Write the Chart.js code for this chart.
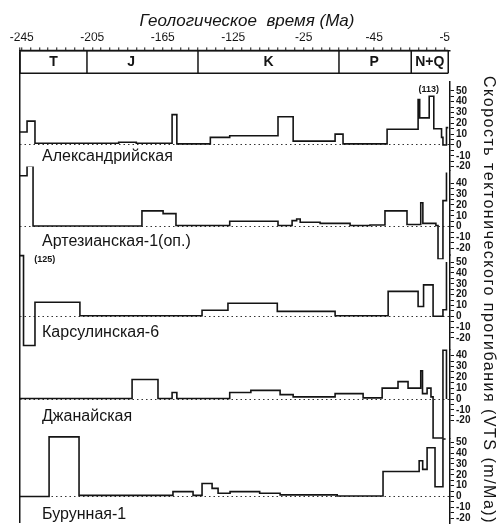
<!DOCTYPE html>
<html>
<head>
<meta charset="utf-8">
<script src="https://cdn.jsdelivr.net/npm/chart.js@4.4.1/dist/chart.umd.min.js"></script>
<style>
  body { margin: 0; background: #fff; }
  canvas { display: block; }
</style>
</head>
<body>
<canvas id="chart" width="500" height="531"></canvas>
<script>
// time axis, Ma
const timeTicks = [-245, -205, -165, -125, -85, -45, -5];
const timeLabels = ['-245', '-205', '-165', '-125', '-25', '-45', '-5'];

// periods
const periodNames = ['T', 'J', 'K', 'P', 'N+Q'];
const periodBounds = [-246, -208, -145, -65, -24, -3];

const stations = ['Александрийская', 'Артезианская-1(оп.)', 'Карсулинская-6', 'Джанайская', 'Бурунная-1'];

// step curves: start time of each step (Ma) and rate (m/Ma)
const alexT = [-246, -242, -237.5, -190, -180, -159.7, -157, -138, -127, -99.6, -91, -67.2, -62.7, -37.7, -20.1, -19.2, -13.8, -11.2, -6.8, -6, -4, -3];
const alexV = [12, 22, 1.5, 2.5, 1.5, 28, 1, 7, 8.5, 26, 3.5, 10, 1, 14.5, 42, 25, 45, 15, 7, 0, 16, 16];

const artT = [-246, -242, -238.6, -176.8, -164.8, -157.5, -127, -99.6, -91.6, -89, -87, -75.7, -58.7, -47.4, -38.9, -26.4, -18.6, -17.4, -10, -8.8, -6, -4];
const artV = [47, 56, 0.5, 14.5, 12, 1, 5, 1, 5.5, 7, 4, 3, 1, 1.5, 14.5, 2, 22, 3, 1, -30, 24, 50];

const karT = [-246, -244, -237.5, -212, -142.7, -128, -100, -67.2, -37.1, -20.1, -17, -11.6, -6, -4];
const karV = [56, -27, 13, 0.5, 5.5, 12, 4.5, 0.5, 23, 9, 29, 0, 6, 50];

const dzhT = [-246, -182.4, -167.7, -159.7, -157, -127, -115, -98.4, -91, -67.2, -51.3, -40.5, -31.5, -25.8, -18.6, -17.6, -15, -12.8, -11.6, -6, -4];
const dzhV = [0.5, 18, 0.5, 6, 0.5, 6, 8, 4, 2, 5, 1, 10, 16, 10, 26, 5, 10, 2, -36, 45, 0];

const burT = [-246, -229.5, -212.5, -159.2, -147.8, -142.7, -137, -133.6, -126.8, -110, -98.4, -66, -40, -19.5, -17.5, -15, -10.5, -6, -4.5];
const burV = [0, 55, 1, 4.5, 1, 12, 7.5, 3, 4.5, 3, 1.5, 0.5, 23, 33, 25, 45, 9, 53, 53];

// rate axis tick labels
const rateTicksA = [50, 40, 30, 20, 10, 0, -10, -20];
const rateTicksB = [40, 30, 20, 10, 0, -10, -20];

const ink = '#141414';

const panels = [
  { id: 'y1', t: alexT, v: alexV, min: -23.6, max: 58.2, ticks: rateTicksA },
  { id: 'y2', t: artT, v: artV, min: -26.4, max: 51.8, ticks: rateTicksB },
  { id: 'y3', t: karT, v: karV, min: -30.9, max: 56.4, ticks: rateTicksA },
  { id: 'y4', t: dzhT, v: dzhV, min: -36.4, max: 45.5, ticks: rateTicksB },
  { id: 'y5', t: burT, v: burV, min: -24.5, max: 53.6, ticks: rateTicksA }
];

// period box outline built from the boundaries
const periodOutline = [
  { x: periodBounds[0], y: 1 }, { x: periodBounds[periodBounds.length - 1], y: 1 }, { x: periodBounds[0], y: null },
  { x: periodBounds[0], y: 0 }, { x: periodBounds[periodBounds.length - 1], y: 0 }, { x: periodBounds[0], y: null }
];
periodBounds.forEach(b => {
  periodOutline.push({ x: b, y: 0 }, { x: b, y: 1 }, { x: b, y: null });
});

const scales = {
  x: {
    type: 'linear',
    position: 'top',
    min: -246,
    max: -2,
    afterBuildTicks: s => {
      const t = [{ value: -246 }];
      for (let v = -245; v <= -5; v += 5) t.push({ value: v });
      s.ticks = t;
    },
    afterFit: s => { s.height = 18; },
    ticks: {
      autoSkip: false, maxRotation: 0, padding: 3, color: ink,
      font: { size: 12 },
      callback: v => { const i = timeTicks.indexOf(v); return i < 0 ? '' : timeLabels[i]; }
    },
    grid: {
      color: c => c.index === 0 ? ink : 'rgba(0,0,0,0)',
      lineWidth: 1.5,
      tickColor: ink, tickLength: 3, tickWidth: 1
    },
    border: { color: ink, width: 1.5 }
  },
  yP: {
    type: 'linear', position: 'right', stack: 'rate', stackWeight: 29.1,
    min: -0.38, max: 1,
    afterFit: s => { s.width = 24; },
    ticks: { display: false },
    grid: { display: false },
    border: { display: false }
  }
};

panels.forEach(p => {
  scales[p.id] = {
    type: 'linear', position: 'right', stack: 'rate', stackWeight: p.max - p.min,
    min: p.min, max: p.max,
    afterBuildTicks: s => {
      const t = [];
      for (let v = p.ticks[p.ticks.length - 1]; v <= p.ticks[0]; v += 5) t.push({ value: v });
      s.ticks = t;
    },
    afterFit: s => { s.width = 24; },
    ticks: {
      autoSkip: false, padding: 2, color: ink,
      font: { size: 10, weight: 'bold' },
      callback: v => p.ticks.includes(v) ? String(v) : ''
    },
    grid: {
      color: c => (c.tick && c.tick.value === 0) ? '#333' : 'rgba(0,0,0,0)',
      lineWidth: 1,
      tickColor: ink, tickLength: 4, tickWidth: 1
    },
    border: { color: ink, width: 1.5, dash: [1.5, 3] }
  };
});

const datasets = [{
  data: periodOutline, yAxisID: 'yP', borderColor: ink, borderWidth: 1.5,
  pointRadius: 0, spanGaps: false, clip: 4
}];
panels.forEach(p => {
  datasets.push({
    data: p.t.map((t, i) => ({ x: t, y: p.v[i] })),
    yAxisID: p.id, stepped: true, borderColor: ink, borderWidth: 1.6,
    pointRadius: 0, fill: false, clip: 4
  });
});

const textPlugin = {
  id: 'texts',
  afterDatasetsDraw(chart) {
    const { ctx, scales: sc, chartArea } = chart;
    const periodLabelAt = [-227, -183, -105, -45, -13.5];
    const nameOffset = [12, 15, 16, 18, 18];
    ctx.save();
    ctx.fillStyle = ink;
    ctx.textBaseline = 'middle';

    ctx.textAlign = 'center';
    ctx.font = 'bold 14px "Liberation Sans"';
    const yMid = sc.yP.getPixelForValue(0.5);
    periodNames.forEach((n, i) => ctx.fillText(n, sc.x.getPixelForValue(periodLabelAt[i]), yMid));

    ctx.textAlign = 'left';
    ctx.font = '16px "Liberation Sans"';
    stations.forEach((s, i) => {
      const ys = sc[panels[i].id];
      ctx.fillText(s, sc.x.getPixelForValue(-233.5), ys.getPixelForValue(0) + nameOffset[i]);
    });

    ctx.textAlign = 'center';
    ctx.font = 'bold 9px "Liberation Sans"';
    ctx.fillText('(113)', sc.x.getPixelForValue(-14), sc.y1.getPixelForValue(51));
    ctx.fillText('(125)', sc.x.getPixelForValue(-232), sc.y3.getPixelForValue(52.7));

    ctx.translate(chartArea.right + 38, 300);
    ctx.rotate(Math.PI / 2);
    ctx.font = '16px "Liberation Sans"';
    ctx.letterSpacing = '1.5px';
    ctx.fillText('Скорость тектонического прогибания (VTS (m/Ma))', 0, 0);
    ctx.restore();
  }
};

Chart.defaults.font.family = '"Liberation Sans", Arial, sans-serif';

new Chart(document.getElementById('chart').getContext('2d'), {
  type: 'line',
  data: { datasets },
  options: {
    responsive: false,
    animation: false,
    layout: { padding: { left: 20, right: 26, top: 0, bottom: 1 } },
    scales,
    plugins: {
      legend: { display: false },
      tooltip: { enabled: false },
      title: {
        display: true,
        text: 'Геологическое  время (Ma)',
        color: ink,
        font: { size: 17, style: 'italic', weight: 'normal' },
        padding: { top: 11, bottom: 1 }
      }
    }
  },
  plugins: [textPlugin]
});
</script>
</body>
</html>
